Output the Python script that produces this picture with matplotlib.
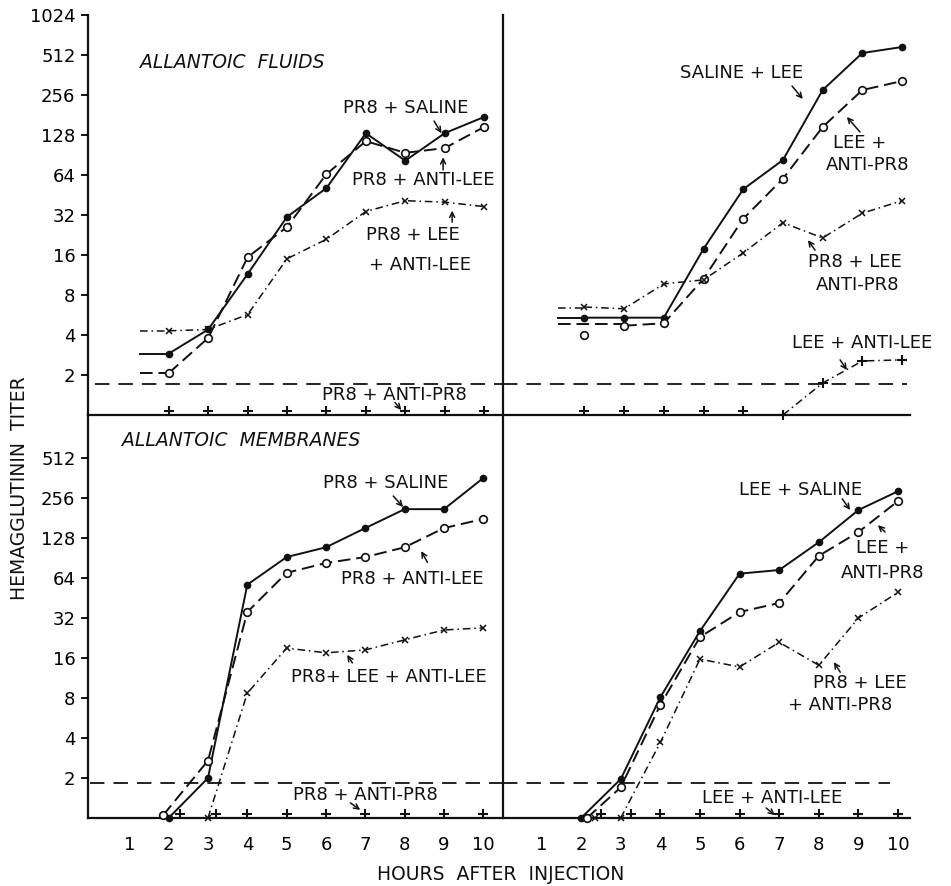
import numpy as np
import matplotlib.pyplot as plt
from matplotlib.ticker import FixedLocator, FixedFormatter, NullLocator

plt.rcParams['font.family'] = ['DejaVu Sans']
plt.rcParams['font.size'] = 12

# ---- data (titer, log2 axis; 1 = on the axis line) ----
hours = [2, 3, 4, 5, 6, 7, 8, 9, 10]
x_ticks = [1, 2, 3, 4, 5, 6, 7, 8, 9, 10]
titer_top = [2, 4, 8, 16, 32, 64, 128, 256, 512, 1024]
titer_bottom = [2, 4, 8, 16, 32, 64, 128, 256, 512]

# allantoic fluids, PR8 side
af_pr8_saline = [2.9, 4.4, 11.5, 31, 51, 132, 82, 132, 175]
af_pr8_antilee = [2.07, 3.8, 15.4, 26, 65, 115, 94, 102, 147]
af_pr8_lee_antilee = [4.3, 4.4, 5.7, 15, 21, 34, 41, 40, 37]
af_pr8_antipr8 = [1.07, 1.07, 1.07, 1.07, 1.07, 1.07, 1.07, 1.07, 1.07]

# allantoic fluids, LEE side
af_saline_lee = [5.4, 5.4, 5.4, 17.8, 50, 83, 279, 530, 588]
af_lee_antipr8 = [4.0, 4.7, 4.9, 10.6, 30, 60, 147, 279, 326]
af_pr8_lee_antipr8 = [6.5, 6.3, 9.7, 10.4, 16.6, 28, 21.5, 33, 41]
af_lee_antilee = [1.07, 1.07, 1.07, 1.07, 1.07, 1.0, 1.74, 2.55, 2.6]

# allantoic membranes, PR8 side
am_pr8_saline = [1, 2.0, 57, 92, 109, 152, 211, 211, 362]
am_pr8_antilee = [1.05, 2.7, 35.5, 70, 83, 92, 109, 152, 178]
am_pr8_lee_antilee = [np.nan, 1, 8.7, 19, 17.5, 18.4, 21.9, 26, 27]
am_pr8_antipr8_hours = [2.3, 3.2, 4, 5, 6, 7, 8, 9, 10]
am_pr8_antipr8 = [1.07, 1.07, 1.07, 1.07, 1.07, 1.07, 1.07, 1.07, 1.07]

# allantoic membranes, LEE side
am_lee_saline = [1, 1.96, 8.1, 25.5, 69, 73.5, 119, 208, 288]
am_lee_antipr8 = [1, 1.7, 7.1, 23, 35.5, 41.5, 94, 142, 243]
am_pr8_lee_antipr8_hours = [2.35, 3, 4, 5, 6, 7, 8, 9, 10]
am_pr8_lee_antipr8 = [1, 1, 3.7, 15.7, 13.7, 21, 14.1, 32, 50]
am_lee_antilee_hours = [2.5, 3.25, 4, 5, 6, 7, 8, 9, 10]
am_lee_antilee = [1.07, 1.07, 1.07, 1.07, 1.07, 1.07, 1.07, 1.07, 1.07]

detect_top = 1.72
detect_bottom = 1.83

# ---- styles ----
K = '#111111'
FS = 13
SOLID = dict(color=K, lw=1.4, ls='-', marker='o', ms=4.5, mfc=K, mec=K)
DASH = dict(color=K, lw=1.4, ls=(0, (6.5, 3)), marker='o', ms=5.5, mfc='white', mec=K, mew=1.2)
DDOT = dict(color=K, lw=1.1, ls=(0, (5, 2.5, 1, 2.5)), marker='x', ms=5, mec=K, mew=1.1)
PLUS = dict(color=K, ls='none', marker='+', ms=7.5, mew=1.5)

W, H = 951, 886
fig = plt.figure(figsize=(W / 100, H / 100), dpi=100)


def px_axes(x0, x1, ytop, ybot):
    return fig.add_axes([x0 / W, 1 - ybot / H, (x1 - x0) / W, (ybot - ytop) / H])


def setup(ax, xlim, ytop, yticks, xlabels):
    ax.set_yscale('log', base=2)
    ax.set_ylim(1, ytop)
    ax.set_xlim(*xlim)
    ax.patch.set_alpha(0)
    for s in ['top', 'right']:
        ax.spines[s].set_visible(False)
    for s in ['left', 'bottom']:
        ax.spines[s].set_linewidth(1.6)
        ax.spines[s].set_color(K)
        ax.spines[s].set_zorder(1)
    ax.yaxis.set_minor_locator(NullLocator())
    if yticks:
        ax.yaxis.set_major_locator(FixedLocator(yticks))
        ax.yaxis.set_major_formatter(FixedFormatter([str(t) for t in yticks]))
        ax.tick_params(axis='y', length=5, width=1.3, pad=4, labelsize=FS)
    else:
        ax.tick_params(axis='y', left=False, labelleft=False)
    if xlabels:
        ax.set_xticks(x_ticks)
        ax.set_xticklabels([str(t) for t in x_ticks])
        ax.tick_params(axis='x', length=0, pad=13, labelsize=FS)
    else:
        ax.tick_params(axis='x', bottom=False, labelbottom=False)


def trace(ax, x, y, style, lead=None, line_from=0):
    if lead is not None:
        x0, x1, lv = lead
        ax.plot([x0, x1], [lv, lv], color=K, lw=style['lw'], ls=style['ls'], clip_on=False)
    ax.plot(x[line_from:], y[line_from:], clip_on=False,
            **{k: v for k, v in style.items() if k not in ('marker', 'ms', 'mfc', 'mec', 'mew')})
    ax.plot(x, y, ls='none', clip_on=False, zorder=3,
            **{k: v for k, v in style.items() if k not in ('ls', 'lw')})


def plus_marks(ax, x, y):
    ax.plot(x, y, clip_on=False, zorder=4, **PLUS)


def label(ax, x, y, s, **kw):
    ax.text(x, y, s, ha='center', va='center', fontsize=FS, color=K, **kw)


def arrow(ax, tail, head):
    ax.annotate('', xy=head, xytext=tail,
                arrowprops=dict(arrowstyle='->', lw=1.1, color=K, shrinkA=0, shrinkB=0,
                                mutation_scale=9))


def threshold(ax, x0, x1, lv):
    ax.plot([x0, x1], [lv, lv], color=K, lw=1.3, ls=(0, (8, 5)), clip_on=False)


# ---- top left: allantoic fluids, PR8 ----
ax = px_axes(88, 503, 15, 415)
setup(ax, (-0.05, 10.48), 1024, titer_top, False)
threshold(ax, 0.13, 10.48, detect_top)
trace(ax, hours, af_pr8_saline, SOLID, lead=(1.27, 2, af_pr8_saline[0]))
trace(ax, hours, af_pr8_antilee, DASH, lead=(1.27, 2, af_pr8_antilee[0]))
trace(ax, hours, af_pr8_lee_antilee, DDOT, lead=(1.27, 2, af_pr8_lee_antilee[0]))
plus_marks(ax, hours, af_pr8_antipr8)
ax.text(1.27, 453, 'ALLANTOIC  FLUIDS', style='italic', ha='left', va='center', fontsize=13.5, color=K)
label(ax, 8.0, 204, 'PR8 + SALINE')
arrow(ax, (8.73, 163), (8.92, 132))
label(ax, 8.45, 58.7, 'PR8 + ANTI-LEE')
arrow(ax, (8.96, 70), (8.96, 87))
label(ax, 8.2, 22.6, 'PR8 + LEE')
label(ax, 8.38, 13.5, '+ ANTI-LEE')
arrow(ax, (9.19, 28.3), (9.19, 34.5))
label(ax, 7.72, 1.41, 'PR8 + ANTI-PR8')
arrow(ax, (7.74, 1.24), (7.9, 1.09))

# ---- top right: allantoic fluids, LEE ----
ax = px_axes(503, 910, 15, 415)
setup(ax, (-0.05, 10.2), 1024, None, False)
threshold(ax, -0.05, 10.13, detect_top)
trace(ax, hours, af_saline_lee, SOLID, lead=(1.33, 2, af_saline_lee[0]))
trace(ax, hours, af_lee_antipr8, DASH, lead=(1.33, 3, 4.8), line_from=1)
trace(ax, hours, af_pr8_lee_antipr8, DDOT, lead=(1.33, 2, 6.4))
ax.plot(hours[5:], af_lee_antilee[5:], color=K, lw=DDOT['lw'], ls=DDOT['ls'], clip_on=False)
plus_marks(ax, hours, af_lee_antilee)
label(ax, 5.97, 375, 'SALINE + LEE')
arrow(ax, (7.23, 299), (7.5, 239))
label(ax, 8.94, 111, 'LEE +')
label(ax, 9.12, 76, 'ANTI-PR8')
arrow(ax, (8.94, 135), (8.61, 175))
label(ax, 8.82, 14.2, 'PR8 + LEE')
label(ax, 8.87, 9.5, 'ANTI-PR8')
arrow(ax, (7.81, 17.4), (7.63, 20.7))
label(ax, 9.0, 3.48, 'LEE + ANTI-LEE')
arrow(ax, (8.44, 2.6), (8.61, 2.18))

# ---- bottom left: allantoic membranes, PR8 ----
ytop_b = 2 ** 10.075
ax = px_axes(88, 503, 415, 818)
setup(ax, (-0.05, 10.5), ytop_b, titer_bottom, True)
threshold(ax, 0.0, 10.5, detect_bottom)
trace(ax, hours, am_pr8_saline, SOLID)
trace(ax, [1.86] + hours[1:], am_pr8_antilee, DASH)
trace(ax, hours, am_pr8_lee_antilee, DDOT)
plus_marks(ax, am_pr8_antipr8_hours, am_pr8_antipr8)
ax.text(0.81, 699, 'ALLANTOIC  MEMBRANES', style='italic', ha='left', va='center', fontsize=13.5, color=K)
label(ax, 7.53, 332, 'PR8 + SALINE')
arrow(ax, (7.71, 265), (7.96, 219))
label(ax, 8.19, 62.9, 'PR8 + ANTI-LEE')
arrow(ax, (8.58, 84), (8.42, 102))
label(ax, 7.6, 11.5, 'PR8+ LEE + ANTI-LEE')
arrow(ax, (6.67, 14.7), (6.54, 16.9))
label(ax, 7.0, 1.49, 'PR8 + ANTI-PR8')
arrow(ax, (6.62, 1.3), (6.87, 1.15))

# ---- bottom right: allantoic membranes, LEE ----
ax = px_axes(503, 910, 415, 818)
setup(ax, (0.03, 10.3), ytop_b, None, True)
threshold(ax, 0.03, 9.8, detect_bottom)
trace(ax, hours, am_lee_saline, SOLID)
trace(ax, [2.15] + hours[1:], am_lee_antipr8, DASH)
trace(ax, am_pr8_lee_antipr8_hours, am_pr8_lee_antipr8, DDOT, line_from=1)
plus_marks(ax, am_lee_antilee_hours, am_lee_antilee)
label(ax, 7.53, 294, 'LEE + SALINE')
arrow(ax, (8.59, 252), (8.79, 208))
label(ax, 9.62, 108, 'LEE +')
label(ax, 9.62, 69.8, 'ANTI-PR8')
arrow(ax, (9.67, 142), (9.49, 160))
label(ax, 9.04, 10.4, 'PR8 + LEE')
label(ax, 8.54, 7.1, '+ ANTI-PR8')
arrow(ax, (8.54, 12.5), (8.38, 14.9))
label(ax, 6.82, 1.41, 'LEE + ANTI-LEE')
arrow(ax, (6.67, 1.19), (6.89, 1.05))

# ---- axis titles ----
fig.text(20 / W, 1 - 488 / H, 'HEMAGGLUTININ  TITER', rotation=90, ha='center', va='center',
         fontsize=13.5, color=K)
fig.text(501 / W, 1 - 875 / H, 'HOURS  AFTER  INJECTION', ha='center', va='center',
         fontsize=13.5, color=K)

fig.savefig('out.png', dpi=100, facecolor='white')
